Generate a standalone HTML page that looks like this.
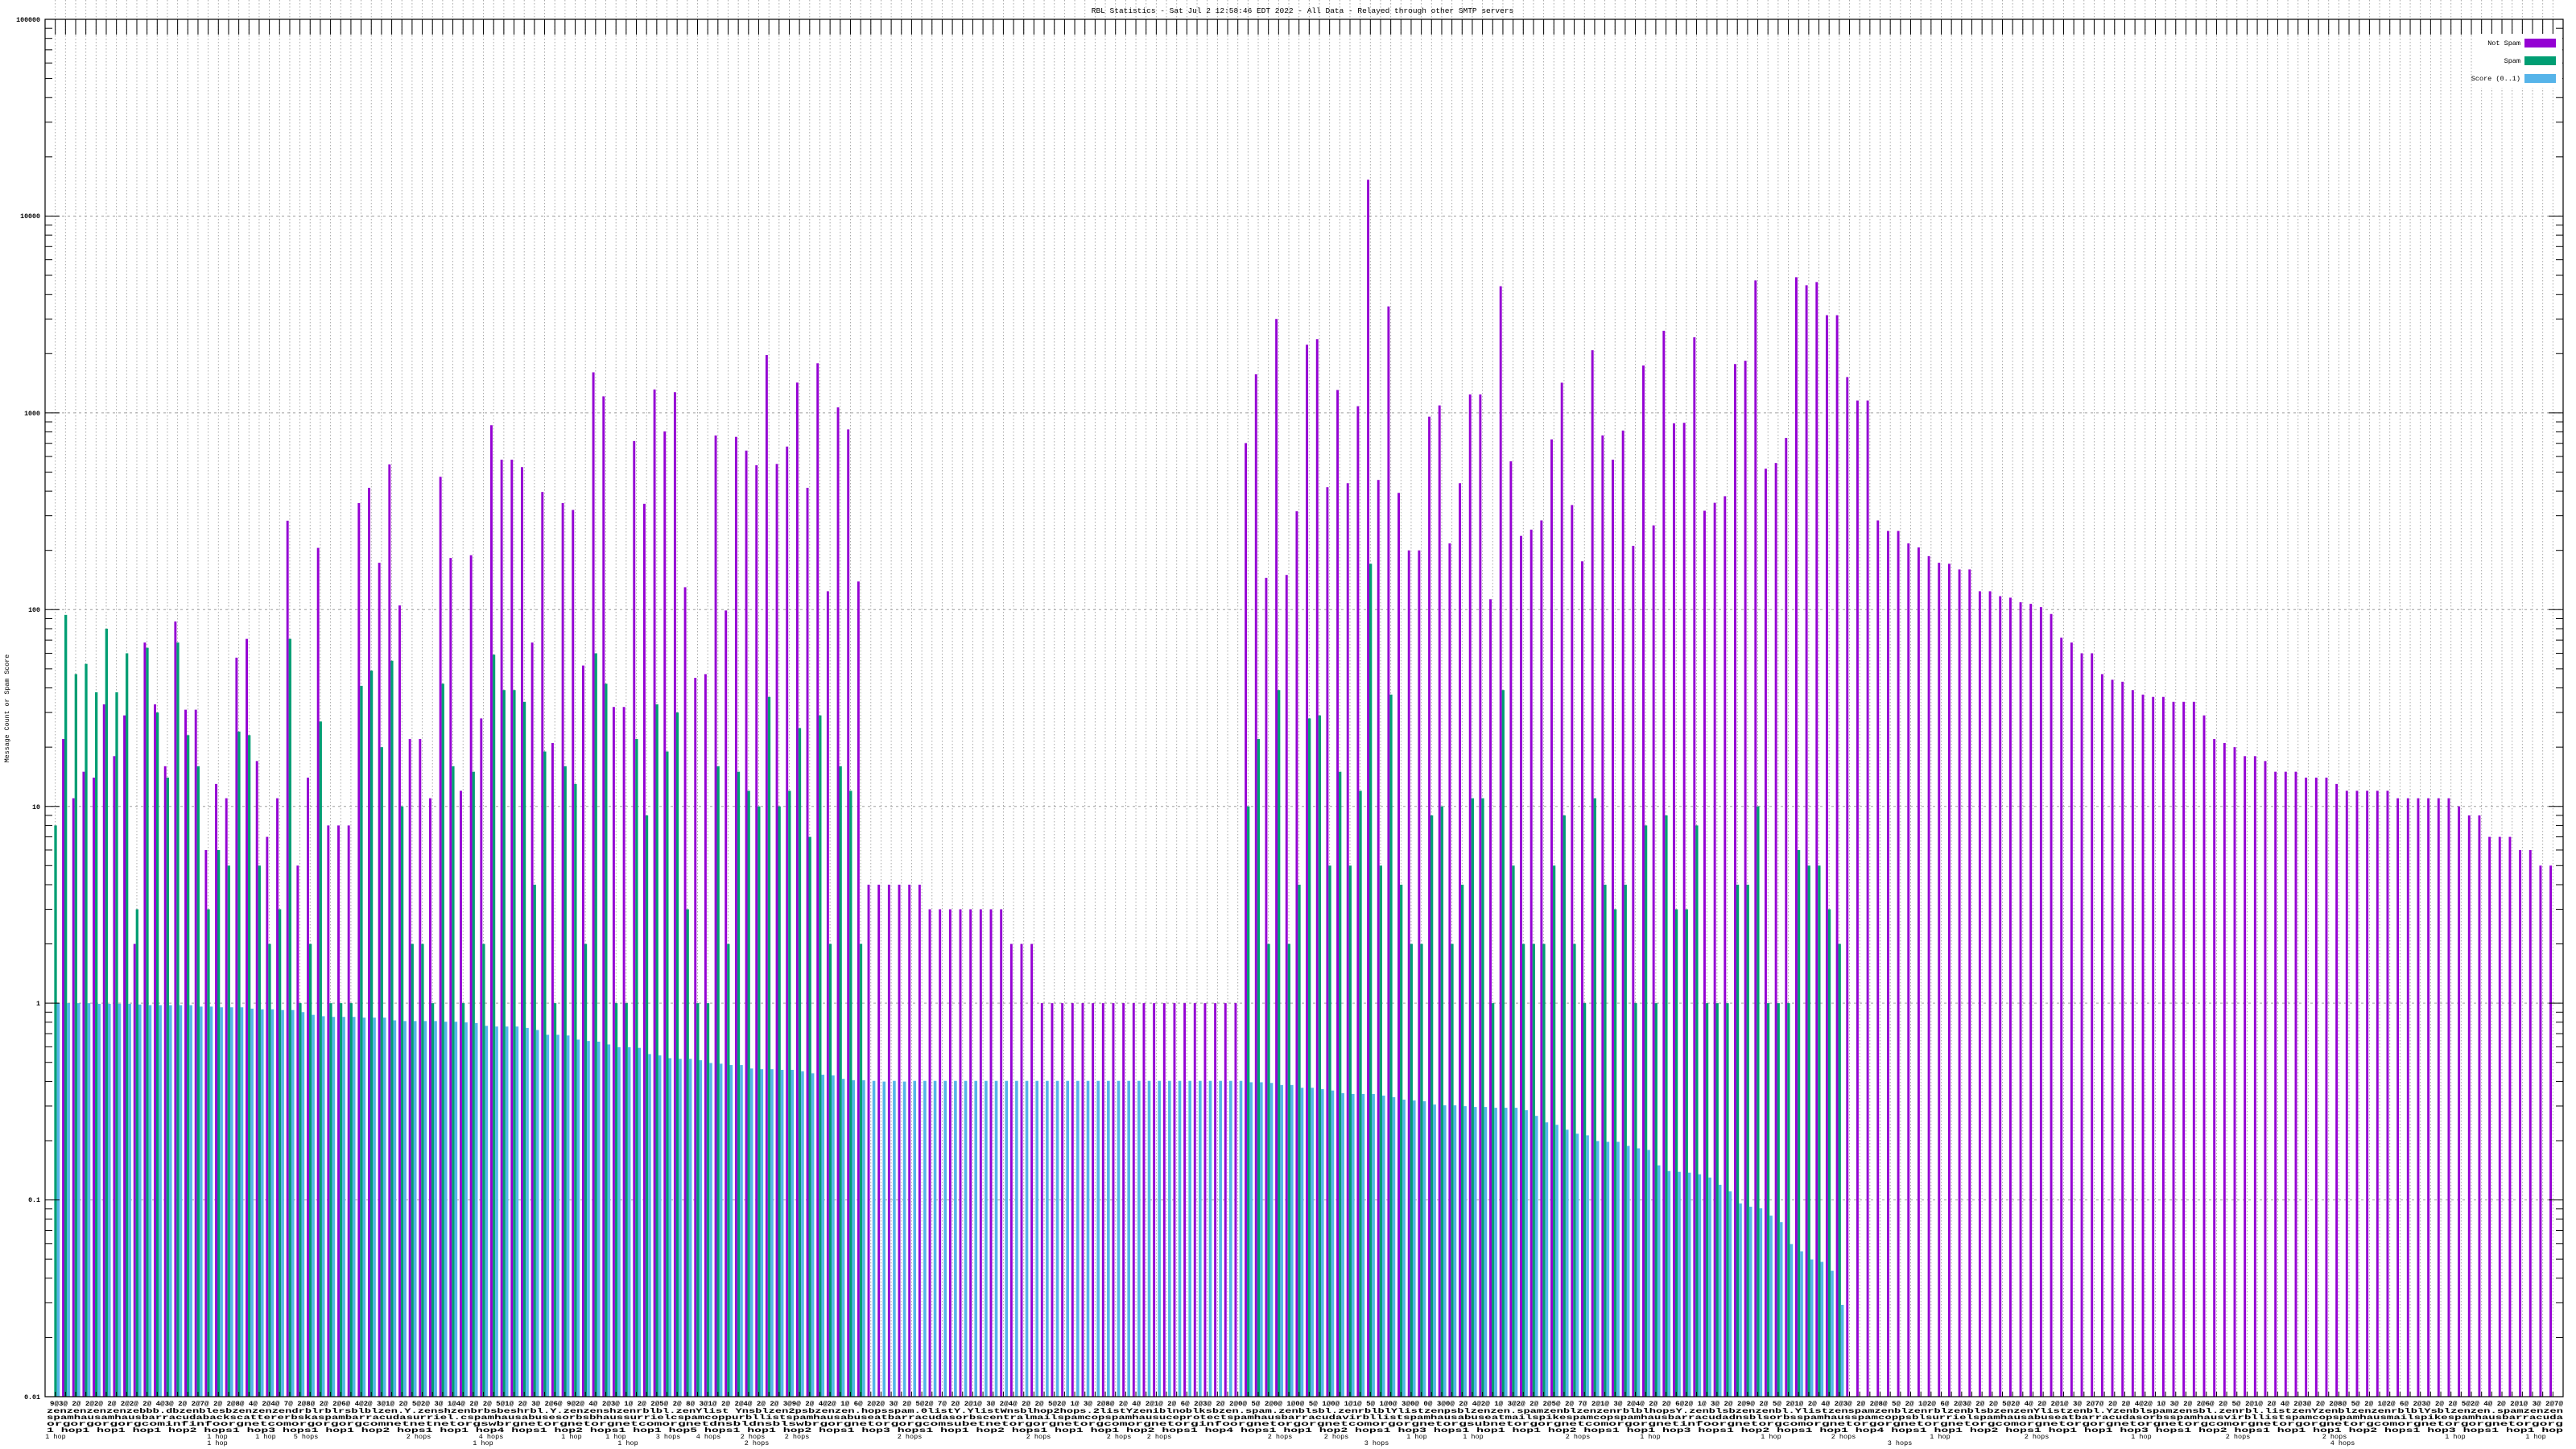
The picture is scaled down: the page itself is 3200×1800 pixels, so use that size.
<!DOCTYPE html>
<html><head><meta charset="utf-8"><style>
html,body{margin:0;padding:0;background:#fff;width:3200px;height:1800px;overflow:hidden}
svg{display:block}
text{font-family:"Liberation Mono","DejaVu Sans Mono",monospace;fill:#000}
</style></head><body>
<svg id="s" width="3200" height="1800" viewBox="0 0 3200 1800" xmlns="http://www.w3.org/2000/svg">
<rect width="3200" height="1800" fill="#fff"/>
<g id="grid"></g>
<g id="bars"></g>
<g id="ticks"></g>
<rect x="56" y="24" width="3128" height="1711" fill="none" stroke="#000" stroke-width="1.2"/>
<text x="1618" y="16" font-size="9.5" text-anchor="middle">RBL Statistics - Sat Jul  2 12:58:46 EDT 2022 - All Data - Relayed through other SMTP servers</text>
<g font-size="8.3" font-weight="bold" text-anchor="end">
<text x="50" y="27">100000</text>
<text x="50" y="271">10000</text>
<text x="50" y="516">1000</text>
<text x="50" y="760">100</text>
<text x="50" y="1005">10</text>
<text x="50" y="1249">1</text>
<text x="50" y="1493">0.1</text>
<text x="50" y="1738">0.01</text>
</g>
<text x="0" y="0" font-size="8.3" text-anchor="middle" transform="translate(11,880) rotate(-90)">Message Count or Spam Score</text>
<rect x="3072" y="42" width="111" height="67" fill="#fff"/>
<g font-size="8.5" text-anchor="end">
<text x="3131" y="56">Not Spam</text>
<text x="3131" y="78">Spam</text>
<text x="3131" y="100">Score (0..1)</text>
</g>
<rect x="3136" y="48" width="39" height="11" fill="#9400d3"/>
<rect x="3136" y="70" width="39" height="11" fill="#009e73"/>
<rect x="3136" y="92" width="39" height="11" fill="#56b4e9"/>
<g font-size="8.5" font-weight="bold">
<text x="62" y="1746" textLength="3122" lengthAdjust="spacingAndGlyphs">9@3@ 2@ 2@2@ 2@ 2@2@ 2@ 4@3@ 2@ 2@7@ 2@ 2@8@ 4@ 2@4@ 7@ 2@8@ 2@ 2@6@ 4@2@ 3@1@ 2@ 5@2@ 3@ 1@4@ 2@ 2@ 5@1@ 2@ 3@ 2@6@ 9@2@ 4@ 2@3@ 1@ 2@ 2@5@ 2@ 8@ 3@1@ 2@ 2@4@ 2@ 2@ 3@9@ 2@ 4@2@ 1@ 6@ 2@2@ 3@ 2@ 5@2@ 7@ 2@ 2@1@ 3@ 2@4@ 2@ 2@ 5@2@ 1@ 3@ 2@8@ 2@ 4@ 2@1@ 2@ 6@ 2@3@ 2@ 2@0@ 5@ 2@0@ 1@0@ 5@ 1@0@ 1@1@ 5@ 1@0@ 3@0@ 0@ 3@0@ 2@ 4@2@ 1@ 3@2@ 2@ 2@5@ 2@ 7@ 2@1@ 3@ 2@4@ 2@ 2@ 6@2@ 1@ 3@ 2@ 2@9@ 2@ 5@ 2@1@ 2@ 4@ 2@3@ 2@ 2@8@ 5@ 2@ 1@2@ 6@ 2@3@ 2@ 2@ 5@2@ 4@ 2@ 2@1@ 3@ 2@7@ 2@ 2@ 4@2@ 1@ 3@ 2@ 2@6@ 2@ 5@ 2@1@ 2@ 4@ 2@3@ 2@ 2@8@ 5@ 2@ 1@2@ 6@ 2@3@ 2@ 2@ 5@2@ 4@ 2@ 2@1@ 3@ 2@7@</text>
<text x="58" y="1755" textLength="3126" lengthAdjust="spacingAndGlyphs">zenzenzenzenzebbb.dbzenblesbzenzenzendrblrblrsblblzen.Y.zenshzenbrbsbeshrbl.Y.zenzenshzenrblbl.zenYlist Ynsblzen2psbzenzen.hopsspam.0listY.YlistWnsblhop2hops.2listYzeniblnoblksbzen.spam.zenblsbl.zenrblblYlistzenpsblzenzen.spamzenblzenzenrblblhopsY.zenblsbzenzenbl.YlistzenspamzenblzenrblzenblsbzenzenYlistzenbl.Yzenblspamzensbl.zenrbl.listzenYzenblzenzenrblblYsblzenzen.spamzenzen</text>
<text x="58" y="1763" textLength="3126" lengthAdjust="spacingAndGlyphs">spamhausamhausbarracudabackscattererbskaspambarracudasurriel.cspamhausabusesorbsbhaussurrielcspamcoppurbllistspamhausabuseatbarracudasorbscentralmailspamcopspamhausuceprotectspamhausbarracudavirbllistspamhausabuseatmailspikespamcopspamhausbarracudadnsblsorbsspamhausspamcoppsblsurrielspamhausabuseatbarracudasorbsspamhausvirbllistspamcopspamhausmailspikespamhausbarracuda</text>
<text x="58" y="1771" textLength="3126" lengthAdjust="spacingAndGlyphs">orgorgorgorgcominfinfoorgnetcomorgorgorgcomnetnetnetorgswbrgnetorgnetorgnetcomorgnetdnsbldnsblswbrgorgnetorgorgcomsubetnetorgorgnetorgcomorgnetorginfoorgnetorgorgnetcomorgorgnetorgsubnetorgorgnetcomorgorgnetinfoorgnetorgcomorgnetorgorgnetorgnetorgcomorgnetorgorgnetorgnetorgcomorgnetorgorgnetorgcomorgnetorgorgnetorgorg</text>
<text x="58" y="1779" textLength="3126" lengthAdjust="spacingAndGlyphs">1 hop1 hop1 hop1 hop2 hops1 hop3 hops1 hop1 hop2 hops1 hop1 hop4 hops1 hop2 hops1 hop1 hop5 hops1 hop1 hop2 hops1 hop3 hops1 hop1 hop2 hops1 hop1 hop1 hop2 hops1 hop4 hops1 hop1 hop2 hops1 hop3 hops1 hop1 hop1 hop2 hops1 hop1 hop3 hops1 hop2 hops1 hop1 hop4 hops1 hop1 hop2 hops1 hop1 hop1 hop3 hops1 hop2 hops1 hop1 hop1 hop2 hops1 hop3 hops1 hop1 hop</text>
</g>
<g font-size="8.5" text-anchor="middle">
<text x="69" y="1787">1 hop</text><text x="270" y="1787">1 hop</text><text x="330" y="1787">1 hop</text><text x="380" y="1787">5 hops</text>
<text x="520" y="1787">2 hops</text><text x="610" y="1787">4 hops</text><text x="710" y="1787">1 hop</text><text x="765" y="1787">1 hop</text>
<text x="830" y="1787">3 hops</text><text x="880" y="1787">4 hops</text><text x="935" y="1787">2 hops</text><text x="990" y="1787">2 hops</text>
<text x="1130" y="1787">2 hops</text><text x="1290" y="1787">2 hops</text><text x="1390" y="1787">2 hops</text><text x="1440" y="1787">2 hops</text>
<text x="1590" y="1787">2 hops</text><text x="1660" y="1787">2 hops</text><text x="1760" y="1787">1 hop</text><text x="1830" y="1787">1 hop</text>
<text x="1960" y="1787">2 hops</text><text x="2050" y="1787">1 hop</text><text x="2200" y="1787">1 hop</text><text x="2290" y="1787">2 hops</text>
<text x="2410" y="1787">1 hop</text><text x="2530" y="1787">2 hops</text><text x="2660" y="1787">1 hop</text><text x="2780" y="1787">2 hops</text>
<text x="2900" y="1787">2 hops</text><text x="3050" y="1787">1 hop</text><text x="3150" y="1787">1 hop</text>
<text x="270" y="1795">1 hop</text><text x="600" y="1795">1 hop</text><text x="780" y="1795">1 hop</text><text x="940" y="1795">2 hops</text>
<text x="1710" y="1795">3 hops</text><text x="2360" y="1795">3 hops</text><text x="2910" y="1795">4 hops</text>
</g>
</svg>
<script>
var NS="http://www.w3.org/2000/svg";
function el(p,t,a){var e=document.createElementNS(NS,t);for(var k in a)e.setAttribute(k,a[k]);p.appendChild(e);return e;}
var L=56,R=3184,T=24,B=1735,N=246,step=(R-L)/(N+1),dec=(B-T)/7;
function Y(v){return T+(5-Math.log10(v))*dec;}
var P=[0,22,11,15,14,33,18,29,2,68,33,16,87,31,31,6,13,11,57,71,17,7,11,283,5,14,206,8,8,8,348,416,173,547,105,22,22,11,473,183,12,189,
28,865,578,578,530,68,396,21,348,321,52,1607,1213,32,32,719,345,1315,805,1273,130,45,47,767,99,755,643,542,1968,550,674,1425,416,1786,124,1066,824,139,4,4,4,4,
4,4,3,3,3,3,3,3,3,3,2,2,2];
for(var i=97;i<=116;i++)P.push(1);
P=P.concat([702,1570,145,3000,150,316,2220,2370,419,
1307,439,1081,15300,456,3475,392,200,200,956,1091,217,439,1240,1240,113,4400,567,237,255,284,733,1423,340,176,2080,768,578,813,211,1740,268,2613,885,890,2420,318,349,377,1770,1840,4710,
520,556,746,4890,4450,4620,3135,3135,1520,1155,1155,284,251,251,217,207,187,173,171,160,160,124,124,117,115,109,107,103,95,72,68,60,60,47,44,43,39,37,36,36,34,34,
34,29,22,21,20,18,18,17,15,15,15,14,14,14,13,12,12,12,12,12,11,11,11,11,11,11,10,9,9,7,7,7,6,6,5,5]);
var G=[8,94,47,53,38,80,38,60,3,64,30,14,68,23,16,3,6,5,24,23,5,2,3,71,1,2,27,1,1,1,41,49,20,55,10,2,2,1,42,16,1,15,
2,59,39,39,34,4,19,1,16,13,2,60,42,1,1,22,9,33,19,30,3,1,1,16,2,15,12,10,36,10,12,25,7,29,2,16,12,2];
for(i=80;i<=116;i++)G.push(0);
G=G.concat([10,22,2,39,2,4,28,29,5,
15,5,12,171,5,37,4,2,2,9,10,2,4,11,11,1,39,5,2,2,2,5,9,2,1,11,4,3,4,1,8,1,9,3,3,8,1,1,1,4,4,10,
1,1,1,6,5,5,3,2]);
var zA=[990,990,990,990,991,991,991,991,992,993,993,993,993,993,995,995,996,996,996,998,999,999,1000,1000,1003,1007,1009,1010,1010,1010,1011,1011,1011,1015,1016,1016,1016,1016,1017,1017,1018,1019,
1023,1024,1024,1024,1026,1029,1036,1036,1037,1043,1045,1046,1050,1054,1054,1055,1064,1066,1070,1071,1071,1073,1077,1078,1080,1080,1085,1086,1086,1087,1087,1089,1092,1094,1095,1100,1102,1102,1103,1104,1103,1104];
for(i=84;i<=116;i++)zA.push(1103);
zA=zA.concat([1105,1105,1106,1109,1109,1113,1113,1115,1117]);
var zB=[1189,1190,1190,1190,1192,1194,1197,1198,1199,1203,1204,1204,1205,1206,1206,1207,1207,1207,1210,1217,1225,1228,1234,1239,1241,1248,1249,1249,1254,1257,1259,1278,1285,1286,1287,1289,1293,1302,1310,1325,1329,1331,1340,1348,1375,1384,1394,1397,1408,1450];
var S=[];for(i=0;i<zA.length;i++)S.push(Math.pow(10,(990-zA[i])/286));
for(i=0;i<zB.length;i++)S.push(Math.pow(10,(1078-zB[i])/242.6));
var grid=document.getElementById("grid"),bars=document.getElementById("bars"),tk=document.getElementById("ticks");
for(var d=1;d<=6;d++){var y=T+d*dec;el(grid,"line",{x1:L,x2:R,y1:y,y2:y,stroke:"#a0a0a0","stroke-width":1,"stroke-dasharray":"3,4"});}
for(i=0;i<N;i++){
 var c=L+(i+1)*step;
 var top=(c>3068)?109:43;
 el(grid,"line",{x1:c,x2:c,y1:top,y2:B,stroke:"#a0a0a0","stroke-width":0.9,"stroke-dasharray":"1.5,2.5"});
 el(tk,"line",{x1:c,x2:c,y1:T,y2:T+19,stroke:"#000","stroke-width":1});
 el(tk,"line",{x1:c,x2:c,y1:B-6,y2:B,stroke:"#000","stroke-width":1});
 var p=P[i]||0,g=G[i]||0,s=S[i]||0;
 if(p>0){var yy=Y(p);if(yy<T)yy=T;el(bars,"rect",{x:c-4.2,y:yy,width:2.9,height:B-yy,fill:"#9400d3"});}
 if(g>0){yy=Y(g);el(bars,"rect",{x:c-1.3,y:yy,width:3.3,height:B-yy,fill:"#009e73"});}
 if(s>0){yy=Y(s);el(bars,"rect",{x:c+2,y:yy,width:3.6,height:B-yy,fill:"#56b4e9"});}
}
for(d=-2;d<=5;d++){
 for(var m=1;m<=9;m++){
  if(d==5&&m>1)break;
  var v=m*Math.pow(10,d),y2=Y(v),len=(m==1)?18:9;
  el(tk,"line",{x1:L,x2:L+len,y1:y2,y2:y2,stroke:"#000","stroke-width":1});
  el(tk,"line",{x1:R-len,x2:R,y1:y2,y2:y2,stroke:"#000","stroke-width":1});
 }
}
</script>
</body></html>
